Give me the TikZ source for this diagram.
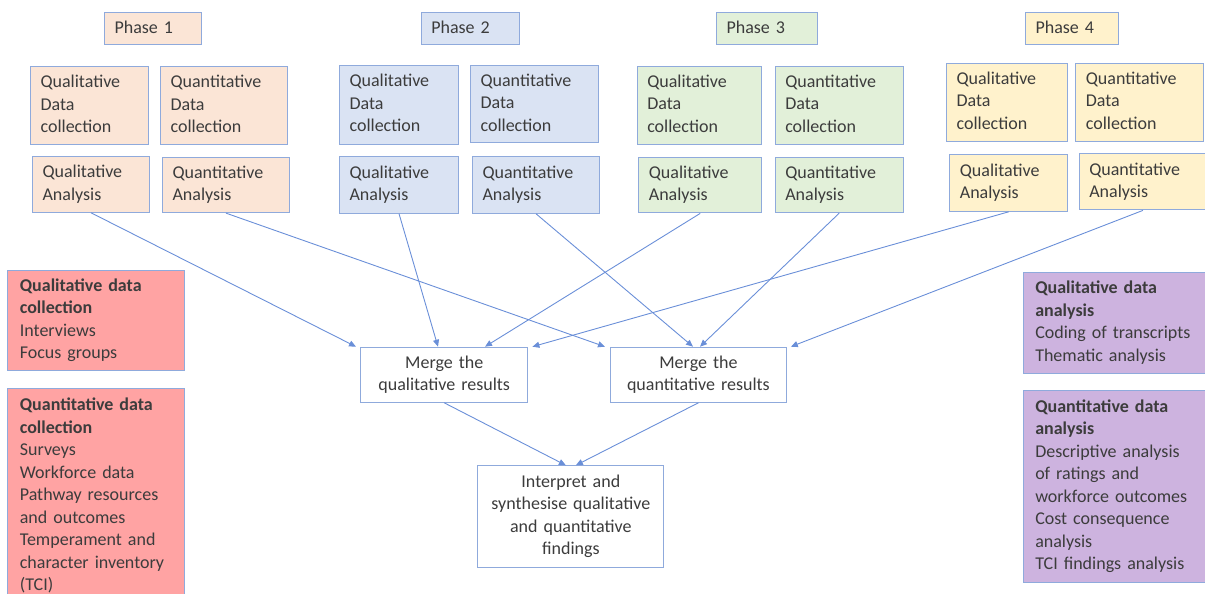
\documentclass[tikz,border=0pt]{standalone}
\usepackage{fontspec}
\setmainfont{Carlito}
\usetikzlibrary{arrows.meta}

\definecolor{edgeblue}{HTML}{8FAADC}
\definecolor{linkblue}{HTML}{6A8FD8}
\definecolor{ink}{HTML}{3C3C3C}
\definecolor{ph1}{HTML}{FBE5D6}
\definecolor{ph2}{HTML}{DAE3F3}
\definecolor{ph3}{HTML}{E2F0D9}
\definecolor{ph4}{HTML}{FFF2CC}
\definecolor{collectred}{HTML}{FFA3A3}
\definecolor{analysepurple}{HTML}{CDB3DF}

\tikzset{
  % width, height, horizontal padding (all in pt)
  boxsize/.code n args={3}{%
    \pgfmathsetmacro\boxtw{#1-2*#3}%
    \tikzset{minimum width=#1pt,minimum height=#2pt,text width=\boxtw pt,inner xsep=#3pt}},
  box/.style={draw=edgeblue, line width=1.1pt, anchor=north west, inner ysep=0pt,
    text=ink, font=\fontsize{18}{22.5}\selectfont, align=left,
    execute at begin node=\strut, execute at end node=\strut},
  mergebox/.style={box, fill=white, align=center},
  conn/.style={draw=linkblue, line width=0.9pt, -{Triangle[length=7pt,width=6pt]}}
}

\begin{document}
\begin{tikzpicture}[x=1pt,y=-1pt]
\useasboundingbox (0,0) rectangle (1205,594);
\clip (0,0) rectangle (1205,594);

% phase headers
\node[box, fill=ph1, boxsize={96.7}{32}{10}] (ph1) at (104,12) {Phase 1};
\node[box, fill=ph2, boxsize={98.3}{32}{10}] (ph2) at (420.7,12) {Phase 2};
\node[box, fill=ph3, boxsize={100.7}{32}{10}] (ph3) at (716,12) {Phase 3};
\node[box, fill=ph4, boxsize={93}{32}{10}] (ph4) at (1025,12) {Phase 4};

% phase 1
\node[box, fill=ph1, boxsize={117.7}{78}{10}] (p1qdc) at (30,66) {Qualitative\\Data\\collection};
\node[box, fill=ph1, boxsize={127}{78}{10}] (p1ndc) at (160,66) {Quantitative\\Data\\collection};
\node[box, fill=ph1, boxsize={117}{56}{10}] (p1qa) at (32,155.7) {Qualitative\\Analysis};
\node[box, fill=ph1, boxsize={126.7}{55}{10}] (p1na) at (162,157) {Quantitative\\Analysis};

% phase 2
\node[box, fill=ph2, boxsize={119}{79.3}{10}] (p2qdc) at (339,64.7) {Qualitative\\Data\\collection};
\node[box, fill=ph2, boxsize={128}{77.6}{10}] (p2ndc) at (470,64.7) {Quantitative\\Data\\collection};
\node[box, fill=ph2, boxsize={119}{57}{10}] (p2qa) at (339,155.7) {Qualitative\\Analysis};
\node[box, fill=ph2, boxsize={127}{57}{10}] (p2na) at (472,155.7) {Quantitative\\Analysis};

% phase 3
\node[box, fill=ph3, boxsize={124.3}{78.3}{10}] (p3qdc) at (636.7,65.7) {Qualitative\\Data\\collection};
\node[box, fill=ph3, boxsize={128}{78.3}{10}] (p3ndc) at (774.7,65.7) {Quantitative\\Data\\collection};
\node[box, fill=ph3, boxsize={122.7}{55.3}{10}] (p3qa) at (638.3,157) {Qualitative\\Analysis};
\node[box, fill=ph3, boxsize={128}{55}{10}] (p3na) at (774.7,157) {Quantitative\\Analysis};

% phase 4
\node[box, fill=ph4, boxsize={121}{78}{10}] (p4qdc) at (946,62.7) {Qualitative\\Data\\collection};
\node[box, fill=ph4, boxsize={127.4}{78}{10}] (p4ndc) at (1075.3,62.7) {Quantitative\\Data\\collection};
\node[box, fill=ph4, boxsize={117.7}{56.7}{10}] (p4qa) at (949.3,154) {Qualitative\\Analysis};
\node[box, fill=ph4, boxsize={127.3}{56}{10}] (p4na) at (1078.7,153.3) {Quantitative\\Analysis};

% data collection methods
\node[box, fill=collectred, boxsize={177}{100}{12}] (qcoll) at (7.3,270)
  {\textbf{Qualitative data}\\\textbf{collection}\\Interviews\\Focus groups};
\node[box, fill=collectred, boxsize={177}{214.5}{12}] (ncoll) at (7.3,388.3)
  {\textbf{Quantitative data}\\\textbf{collection}\\Surveys\\Workforce data\\Pathway resources\\and outcomes\\Temperament and\\character inventory\\(TCI)};

% analysis methods
\node[box, fill=analysepurple, boxsize={183.3}{101.6}{12}] (qanal) at (1022.7,271.7)
  {\textbf{Qualitative data}\\\textbf{analysis}\\Coding of transcripts\\Thematic analysis};
\node[box, fill=analysepurple, boxsize={183.3}{191.7}{12}] (nanal) at (1022.7,390)
  {\textbf{Quantitative data}\\\textbf{analysis}\\Descriptive analysis\\of ratings and\\workforce outcomes\\Cost consequence\\analysis\\TCI findings analysis};

% merging and synthesis
\node[mergebox, boxsize={167.3}{55}{10}] (mqual) at (360,346.7) {Merge the\\qualitative results};
\node[mergebox, boxsize={175.7}{55}{10}] (mquant) at (610,346.7) {Merge the\\quantitative results};
\node[mergebox, boxsize={186}{101.4}{10}] (interp) at (477.3,465.3)
  {Interpret and\\synthesise qualitative\\and quantitative\\findings};

% connectors into the merge steps
\draw[conn] (p1qa.south) -- ([xshift=-4pt]mqual.north west);
\draw[conn] (p1na.south) -- ([xshift=-5pt]mquant.north west);
\draw[conn] (p2qa.south) -- ([xshift=78pt]mqual.north west);
\draw[conn] (p2na.south) -- ([xshift=83pt]mquant.north west);
\draw[conn] (p3qa.south) -- ([xshift=125pt]mqual.north west);
\draw[conn] (p3na.south) -- ([xshift=90pt]mquant.north west);
\draw[conn] (p4qa.south) -- ([xshift=4pt]mqual.north east);
\draw[conn] (p4na.south) -- ([xshift=4pt]mquant.north east);

% connectors into the synthesis
\draw[conn] (mqual.south) -- ([xshift=-5pt]interp.north);
\draw[conn] (mquant.south) -- ([xshift=5pt]interp.north);
\end{tikzpicture}
\end{document}
